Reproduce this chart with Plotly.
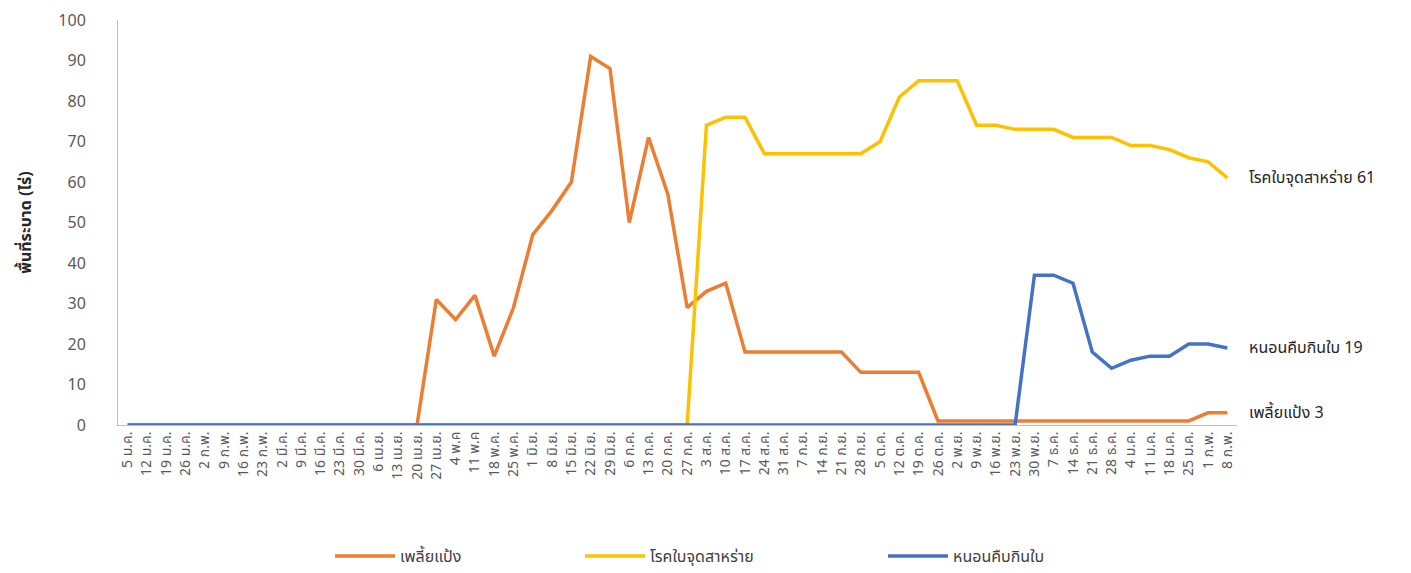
import plotly.graph_objects as go

dates = ["5 ม.ค.", "12 ม.ค.", "19 ม.ค.", "26 ม.ค.", "2 ก.พ.", "9 ก.พ.", "16 ก.พ.", "23 ก.พ.",
         "2 มี.ค.", "9 มี.ค.", "16 มี.ค.", "23 มี.ค.", "30 มี.ค.", "6 เม.ย.", "13 เม.ย.", "20 เม.ย.",
         "27 เม.ย.", "4 พ.ค", "11 พ.ค", "18 พ.ค.", "25 พ.ค.", "1 มิ.ย.", "8 มิ.ย.", "15 มิ.ย.",
         "22 มิ.ย.", "29 มิ.ย.", "6 ก.ค.", "13 ก.ค.", "20 ก.ค.", "27 ก.ค.", "3 ส.ค.", "10 ส.ค.",
         "17 ส.ค.", "24 ส.ค.", "31 ส.ค.", "7 ก.ย.", "14 ก.ย.", "21 ก.ย.", "28 ก.ย.", "5 ต.ค.",
         "12 ต.ค.", "19 ต.ค.", "26 ต.ค.", "2 พ.ย.", "9 พ.ย.", "16 พ.ย.", "23 พ.ย.", "30 พ.ย.",
         "7 ธ.ค.", "14 ธ.ค.", "21 ธ.ค.", "28 ธ.ค.", "4 ม.ค.", "11 ม.ค.", "18 ม.ค.", "25 ม.ค.",
         "1 ก.พ.", "8 ก.พ."]

mealybug = [0] * 16 + [31, 26, 32, 17, 29, 47, 53, 60, 91, 88, 50, 71, 57, 29, 33, 35,
                       18, 18, 18, 18, 18, 18, 13, 13, 13, 13] + [1] * 14 + [3, 3]
algal_leaf_spot = [0] * 30 + [74, 76, 76, 67, 67, 67, 67, 67, 67, 70, 81, 85, 85, 85,
                              74, 74, 73, 73, 73, 71, 71, 71, 69, 69, 68, 66, 65, 61]
looper = [0] * 47 + [37, 37, 35, 18, 14, 16, 17, 17, 20, 20, 19]

names = ["เพลี้ยแป้ง", "โรคใบจุดสาหร่าย", "หนอนคืบกินใบ"]
colors = ["#ED7D31", "#FFC000", "#4472C4"]
series = [mealybug, algal_leaf_spot, looper]

FONT = "Tahoma, 'Leelawadee UI', 'Noto Sans Thai', 'Noto Sans', sans-serif"

W, H = 1411, 573
L, R, T, B = 118, 174, 20, 0
AX_BOTTOM = 425  # pixel y of the x axis
plot_h = H - T - B
dom_bottom = (H - B - AX_BOTTOM) / plot_h

fig = go.Figure()
legend_ids = ["legend", "legend2", "legend3"]
for name, col, vals, lg in zip(names, colors, series, legend_ids):
    fig.add_trace(go.Scatter(x=dates, y=vals, mode="lines", name=name,
                             line=dict(color=col, width=3.5), legend=lg))

# end labels
for name, vals in zip(names, series):
    fig.add_annotation(x=dates[-1], y=vals[-1], text=f"{name} {vals[-1]}", xref="x", yref="y",
                       xanchor="left", yanchor="middle", xshift=20, showarrow=False,
                       font=dict(size=16, color="#262626", family=FONT))

leg_x = [330, 580, 883]
common = dict(orientation="h", yanchor="bottom", xanchor="left", y=0, itemwidth=60,
              font=dict(size=16, color="#404040", family=FONT), bgcolor="rgba(0,0,0,0)")
layout_legends = {}
for lg, lx in zip(legend_ids, leg_x):
    layout_legends[lg] = dict(x=(lx - L) / (W - L - R), **common)

fig.update_layout(
    width=W, height=H,
    margin=dict(l=L, r=R, t=T, b=B),
    plot_bgcolor="white", paper_bgcolor="white",
    font=dict(family=FONT, color="#595959"),
    showlegend=True,
    **layout_legends,
    xaxis=dict(type="category", range=[-0.5, len(dates) - 0.5], tickangle=-90,
               tickfont=dict(size=14, color="#595959", family=FONT),
               showgrid=False, showline=True, linecolor="#BFBFBF", linewidth=1,
               ticks="", zeroline=False, anchor="y", automargin=False),
    yaxis=dict(range=[0, 100], dtick=10, domain=[dom_bottom, 1],
               tickfont=dict(size=16, color="#595959", family=FONT),
               showgrid=False, showline=True, linecolor="#BFBFBF", linewidth=1,
               ticks="", zeroline=False, ticklabelstandoff=28, automargin=False,
               title=dict(text="<b>พื้นที่ระบาด (ไร่)</b>", standoff=22,
                          font=dict(size=16, color="#262626", family=FONT))),
)

fig.write_html("out.html")
